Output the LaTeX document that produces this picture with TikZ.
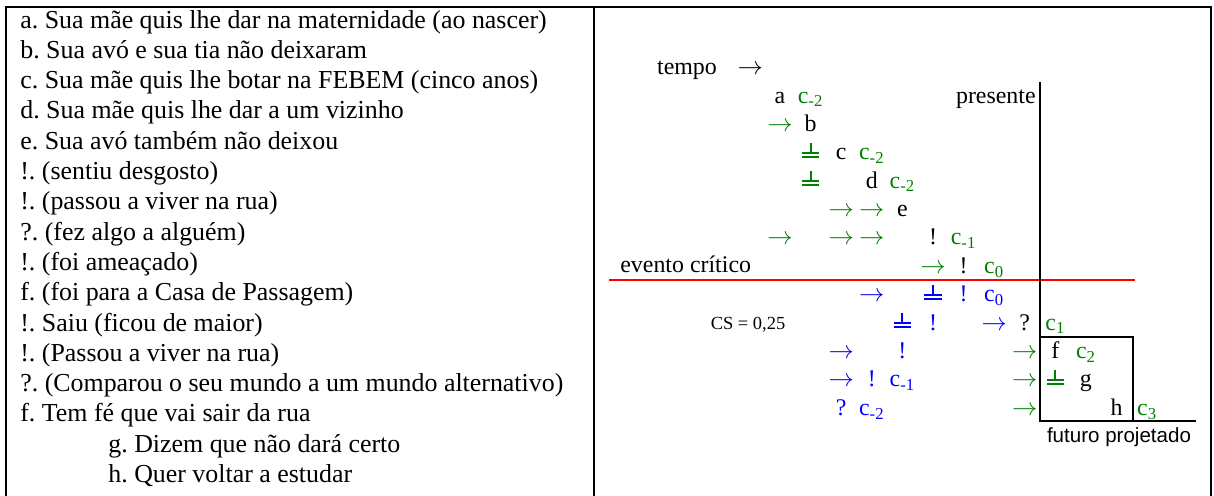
\documentclass[tikz,border=0pt]{standalone}
\usepackage{fontspec}
\setmainfont{Liberation Serif}
\setsansfont{Liberation Sans}
\usetikzlibrary{positioning}
\definecolor{sgreen}{RGB}{0,128,0}
\definecolor{sblue}{RGB}{0,0,255}
\frenchspacing
% inverted tack over a double base line
\newcommand{\dtack}{\raisebox{1pt}{\vbox{\hbox to 10pt{\hss\vrule width 1.2pt height 5pt\hss}\hrule height 1.2pt\kern1.3pt\hrule height 1.2pt}}}
\newcommand{\arr}{$\rightarrow$}

\begin{document}
\begin{tikzpicture}[x=0.02cm, y=-0.02cm,
                frame/.style={line width=1.2pt},
                lefttext/.style={anchor=base west, inner sep=0pt, font=\fontsize{14.74}{17}\selectfont},
                glyph/.style={anchor=base, inner sep=0pt, font=\fontsize{13.6}{16}\selectfont},
                grn/.style={glyph, text=sgreen},
                blu/.style={glyph, text=sblue}
                ]
                \useasboundingbox (0,0) rectangle (1214,495);

                % Table
                \draw[frame] (6,496) -- (6,7) -- (1211,7) -- (1211,496);
                \draw[frame] (594,7) -- (594,496);

                % Left column
                \foreach \txt [count=\i from 0] in {a. Sua mãe quis lhe dar na maternidade (ao nascer),
                    b. Sua avó e sua tia não deixaram,
                    c. Sua mãe quis lhe botar na FEBEM (cinco anos),
                    d. Sua mãe quis lhe dar a um vizinho,
                    e. Sua avó também não deixou,
                    !. (sentiu desgosto),
                    !. (passou a viver na rua),
                    ?. (fez algo a alguém),
                    !. (foi ameaçado),
                    f. (foi para a Casa de Passagem),
                    !. Saiu (ficou de maior),
                    !. (Passou a viver na rua),
                    ?. (Comparou o seu mundo a um mundo alternativo),
                    f. Tem fé que vai sair da rua}
                    \node[lefttext] (line\i) at (20,{28+30.3*\i}) {\txt};
                \node[lefttext] (lineg) at (108,{28+30.3*14}) {g. Dizem que não dará certo};
                \node[lefttext] (lineh) at (108,{28+30.3*15}) {h. Quer voltar a estudar};

                % Lines
                \draw[line width=1.2pt, red] (609,280) -- (1135,280);
                \draw[frame] (1040,82) -- (1040,421) -- (1196,421);
                \draw[frame] (1040,337) -- (1133,337) -- (1133,421);

                % Labels
                \node[glyph] (tempo) at (687,74) {tempo};
                \node[glyph] (tempoarr) [base right=0.4cm of tempo] {\arr};
                \node[glyph, anchor=base east] (presente) at (1036,103) {presente};
                \node[glyph, anchor=base west] (critico) at (620,272) {evento crítico};
                \node[glyph, font=\fontsize{10.5}{12}\selectfont] (cs) at (748,329) {CS = 0,25};
                \node[glyph, font=\sffamily\fontsize{11.7}{14}\selectfont] (futuro) at (1119,442) {futuro projetado};

                % Grid of events
                \begin{scope}[shift={(780,103)}, x=0.612cm, y=-0.568cm]
                \foreach \c/\r/\t in {0/0/a, 1/1/b, 2/2/c, 3/3/d, 4/4/e, 5/5/!, 6/6/!,
                                      8/8/?, 9/9/f, 10/10/g, 11/11/h}
                    \node[glyph] (k\c-\r) at (\c,\r) {\t};
                \foreach \c/\r/\t in {1/0/c\textsubscript{-2}, 0/1/\arr, 1/2/\dtack, 3/2/c\textsubscript{-2},
                                      1/3/\dtack, 4/3/c\textsubscript{-2}, 2/4/\arr, 3/4/\arr,
                                      0/5/\arr, 2/5/\arr, 3/5/\arr, 6/5/c\textsubscript{-1},
                                      5/6/\arr, 7/6/c\textsubscript{0}, 9/8/c\textsubscript{1},
                                      8/9/\arr, 10/9/c\textsubscript{2}, 8/10/\arr, 9/10/\dtack,
                                      8/11/\arr, 12/11/c\textsubscript{3}}
                    \node[grn] (g\c-\r) at (\c,\r) {\t};
                \foreach \c/\r/\t in {3/7/\arr, 5/7/\dtack, 6/7/!, 7/7/c\textsubscript{0},
                                      4/8/\dtack, 5/8/!, 7/8/\arr,
                                      2/9/\arr, 4/9/!, 2/10/\arr, 3/10/!, 4/10/c\textsubscript{-1},
                                      2/11/?, 3/11/c\textsubscript{-2}}
                    \node[blu] (b\c-\r) at (\c,\r) {\t};
                \end{scope}
\end{tikzpicture}
\end{document}
